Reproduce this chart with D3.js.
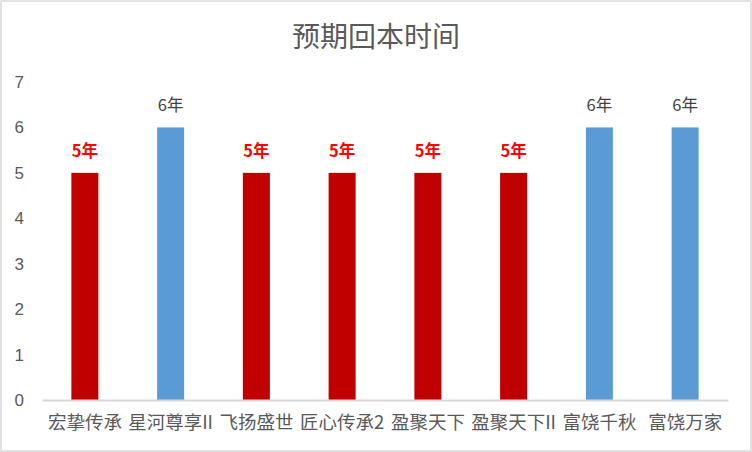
<!DOCTYPE html>
<html><head><meta charset="utf-8">
<script src="https://cdn.jsdelivr.net/npm/d3@7"></script>
<style>body{margin:0;background:#fff}svg{display:block}</style>
</head><body>
<script>
const categories = ["宏挚传承","星河尊享II","飞扬盛世","匠心传承2","盈聚天下","盈聚天下II","富饶千秋","富饶万家"];
const values = [5,6,5,5,5,5,6,6];
const barColors = ["#C00000","#5B9BD5","#C00000","#C00000","#C00000","#C00000","#5B9BD5","#5B9BD5"];
const labelTexts = ["5年","6年","5年","5年","5年","5年","6年","6年"];
const yTicks = [0,1,2,3,4,5,6,7];
const title = "预期回本时间";

const W = 752, H = 452;
const margin = {left: 42, right: 24, top: 82, bottom: 52};
const svg = d3.select("body").append("svg").attr("width", W).attr("height", H);
svg.append("rect").attr("x",1).attr("y",1).attr("width",W-2).attr("height",H-2)
  .attr("fill","#fff").attr("stroke","#D9D9D9").attr("stroke-width",1.5);

const font = "'Noto Sans CJK SC','Noto Sans',sans-serif";
const x = d3.scaleBand().domain(categories).range([margin.left, W - margin.right]).paddingInner(0.685).paddingOuter(0.3425);
const y = d3.scaleLinear().domain([0,7]).range([H - margin.bottom, margin.top]);

svg.append("text").attr("x", 376).attr("y", 47).attr("text-anchor","middle")
  .attr("font-family", font).attr("font-size", 28).attr("fill","#595959").text(title);

// y axis labels
const ya = svg.append("g").attr("transform",`translate(${margin.left},0)`)
  .call(d3.axisLeft(y).tickValues(yTicks).tickFormat(d3.format("d")).tickSize(0).tickPadding(18));
ya.select(".domain").remove();
ya.selectAll("text").attr("font-family","'Liberation Sans','Noto Sans',sans-serif").attr("font-size",17).attr("fill","#595959");

// bars
svg.selectAll("rect.bar").data(categories).join("rect").attr("class","bar")
  .attr("x", d => x(d)).attr("width", x.bandwidth())
  .attr("y", (d,i) => y(values[i])).attr("height", (d,i) => y(0) - y(values[i]))
  .attr("fill", (d,i) => barColors[i]);

// x axis
const xa = svg.append("g").attr("transform",`translate(0,${y(0)})`)
  .call(d3.axisBottom(x).tickSize(0).tickPadding(16));
xa.select(".domain").attr("stroke","#D9D9D9").attr("stroke-width",2);
xa.selectAll("text").attr("font-family", font).attr("font-size",18.5).attr("fill","#595959");

// data labels
svg.selectAll("text.lbl").data(categories).join("text").attr("class","lbl")
  .attr("x", d => x(d) + x.bandwidth()/2).attr("y", (d,i) => y(values[i]) - 16)
  .attr("text-anchor","middle").attr("font-family", font).attr("font-size",16.5)
  .attr("font-weight",(d,i) => values[i]===5 ? "bold" : "normal")
  .attr("fill",(d,i) => values[i]===5 ? "#FF0000" : "#404040")
  .text((d,i) => labelTexts[i]);
</script>
</body></html>
